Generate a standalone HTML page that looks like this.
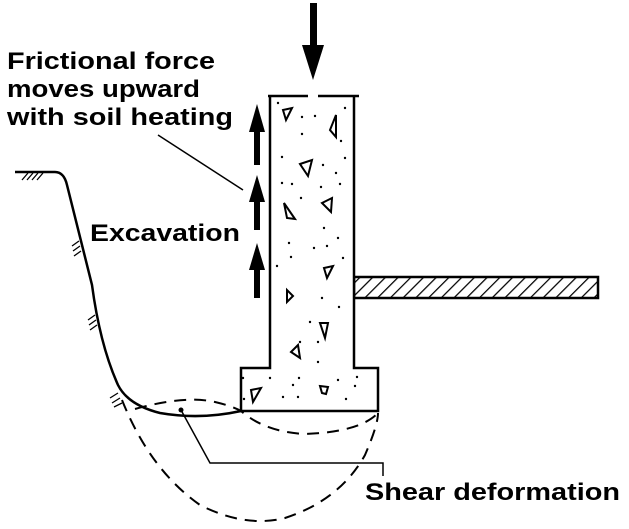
<!DOCTYPE html>
<html><head><style>
body{margin:0;background:#fff;}
svg{display:block;}
text{font-family:"Liberation Sans",sans-serif;font-weight:bold;fill:#000;}
</style></head><body>
<svg width="629" height="529" viewBox="0 0 629 529">
<defs>
<pattern id="h" width="9" height="9" patternUnits="userSpaceOnUse" patternTransform="rotate(45)">
<rect width="9" height="9" fill="#fff"/><line x1="0" y1="0" x2="0" y2="9" stroke="#000" stroke-width="2.5"/>
</pattern>
</defs>
<g font-size="24">
<text x="7" y="69" textLength="208" lengthAdjust="spacingAndGlyphs">Frictional force</text>
<text x="7" y="97" textLength="193" lengthAdjust="spacingAndGlyphs">moves upward</text>
<text x="7" y="125" textLength="226" lengthAdjust="spacingAndGlyphs">with soil heating</text>
<text x="90" y="241" textLength="150" lengthAdjust="spacingAndGlyphs">Excavation</text>
<text x="365" y="500" textLength="255" lengthAdjust="spacingAndGlyphs">Shear deformation</text>
</g>
<!-- top arrow -->
<rect x="310" y="3" width="7" height="45" fill="#000"/>
<polygon points="302,45 324,45 313,80" fill="#000"/>
<!-- up arrows -->
<g fill="#000">
<polygon points="249,132 265,132 257,104"/><rect x="254" y="128" width="6" height="37"/>
<polygon points="249,202 265,202 257,175"/><rect x="254" y="198" width="6" height="32"/>
<polygon points="249,270 265,270 257,243"/><rect x="254" y="266" width="6" height="32"/>
</g>
<line x1="158" y1="135" x2="243" y2="190" stroke="#000" stroke-width="1.5"/>
<!-- slab -->
<rect x="354" y="277" width="244" height="21" fill="url(#h)" stroke="#000" stroke-width="2.5"/>
<!-- column -->
<path d="M270,96 V368 H241 V411 H378 V368 H354 V96" fill="#fff" stroke="#000" stroke-width="2.5"/>
<line x1="268" y1="96" x2="308" y2="96" stroke="#000" stroke-width="2.5"/>
<line x1="318" y1="96" x2="359" y2="96" stroke="#000" stroke-width="2.5"/>
<g fill="none" stroke="#000" stroke-width="2">
<polygon points="283,110 292,108 286,120"/>
<polygon points="336,115 330,130 336,137"/>
<polygon points="300,164 312,160 308,176"/>
<polygon points="284,203 287,218 295,219"/>
<polygon points="322,203 332,198 331,212"/>
<polygon points="324,268 333,266 327,278"/>
<polygon points="287,290 287,302 293,296"/>
<polygon points="320,323 328,323 325,338"/>
<polygon points="291,352 298,345 300,358"/>
<polygon points="251,390 261,388 253,402"/>
<polygon points="320,386 328,387 326,394 322,393"/>
</g>
<g fill="#000">
<circle cx="278" cy="103" r="1.2"/><circle cx="302" cy="117" r="1.2"/><circle cx="315" cy="116" r="1.2"/><circle cx="345" cy="108" r="1.2"/>
<circle cx="302" cy="134" r="1.2"/><circle cx="341" cy="141" r="1.2"/><circle cx="282" cy="157" r="1.2"/><circle cx="323" cy="165" r="1.2"/>
<circle cx="336" cy="173" r="1.2"/><circle cx="345" cy="158" r="1.2"/><circle cx="282" cy="183" r="1.2"/><circle cx="292" cy="184" r="1.2"/>
<circle cx="321" cy="187" r="1.2"/><circle cx="340" cy="184" r="1.2"/><circle cx="301" cy="198" r="1.2"/><circle cx="324" cy="228" r="1.2"/>
<circle cx="338" cy="238" r="1.2"/><circle cx="289" cy="243" r="1.2"/><circle cx="314" cy="248" r="1.2"/><circle cx="327" cy="246" r="1.2"/>
<circle cx="291" cy="257" r="1.2"/><circle cx="343" cy="258" r="1.2"/><circle cx="277" cy="266" r="1.2"/><circle cx="322" cy="298" r="1.2"/>
<circle cx="339" cy="307" r="1.2"/><circle cx="310" cy="322" r="1.2"/><circle cx="300" cy="342" r="1.2"/><circle cx="318" cy="342" r="1.2"/>
<circle cx="318" cy="362" r="1.2"/><circle cx="243" cy="378" r="1.2"/><circle cx="270" cy="378" r="1.2"/><circle cx="299" cy="378" r="1.2"/>
<circle cx="338" cy="380" r="1.2"/><circle cx="357" cy="377" r="1.2"/><circle cx="293" cy="385" r="1.2"/><circle cx="355" cy="386" r="1.2"/>
<circle cx="244" cy="399" r="1.2"/><circle cx="283" cy="397" r="1.2"/><circle cx="298" cy="397" r="1.2"/><circle cx="346" cy="399" r="1.2"/>
</g>
<!-- ground profile -->
<path d="M15,172 H55 Q64,172 67,185 L92,285 Q100,345 118,385 Q128,405 160,413 Q200,420 241,411" fill="none" stroke="#000" stroke-width="2.5"/>
<g stroke="#000" stroke-width="1.3">
<line x1="22" y1="180" x2="28" y2="173"/><line x1="27" y1="180" x2="33" y2="173"/><line x1="32" y1="180" x2="38" y2="173"/><line x1="37" y1="180" x2="43" y2="173"/>
<line x1="72" y1="246" x2="79" y2="241"/><line x1="73" y1="251" x2="80" y2="246"/><line x1="74" y1="256" x2="81" y2="251"/>
<line x1="88" y1="320" x2="95" y2="315"/><line x1="89" y1="325" x2="96" y2="320"/><line x1="90" y1="330" x2="97" y2="325"/>
<line x1="110" y1="398" x2="118" y2="393"/><line x1="112" y1="403" x2="120" y2="398"/><line x1="114" y1="407" x2="122" y2="403"/>
</g>
<!-- dashed shear zones -->
<g fill="none" stroke="#000" stroke-width="2" stroke-dasharray="12,8">
<path d="M135,409 Q185,395 215,402 Q232,406 241,411 Q265,432 305,434 Q360,432 378,413"/>
<path d="M122,400 Q150,470 200,505 Q245,528 285,518 Q340,500 365,455 Q378,425 378,413"/>
</g>
<!-- shear leader -->
<circle cx="181" cy="410" r="2.5" fill="#000"/>
<polyline points="181,410 210,463 383,463 383,476" fill="none" stroke="#000" stroke-width="1.5"/>
</svg>
</body></html>
